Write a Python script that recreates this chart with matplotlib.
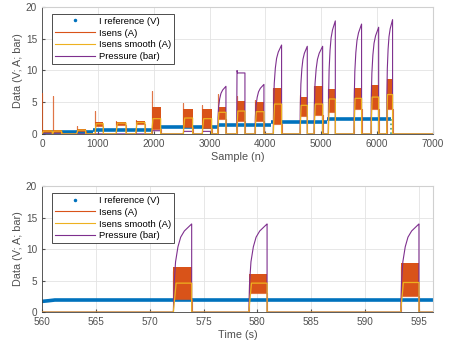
import numpy as np
import matplotlib.pyplot as plt
from matplotlib.lines import Line2D

plt.rcParams['font.family'] = ['Liberation Sans', 'DejaVu Sans']

# colores tipo MATLAB
C_REF = '#0072BD'
C_ISENS = '#D95319'
C_SMOOTH = '#EDB120'
C_PRESS = '#7E2F8E'

# --- grafico superior (muestras) ---
ref_start = [0, 913, 1970, 3150, 4100, 5100]
ref_end = [913, 1970, 3150, 4100, 5100, 6240]
ref_level = [0.26, 0.6, 1.1, 1.47, 1.94, 2.36]

t_start = [0, 191, 620, 949, 1325, 1677, 1963, 2530, 2870, 3145,
           3485, 3813, 4141, 4620, 4870, 5126, 5585, 5890, 6170]
t_end = [185, 352, 782, 1097, 1504, 1844, 2125, 2697, 3038, 3294,
         3634, 3974, 4290, 4750, 5025, 5252, 5722, 6028, 6277]
t_lo = [0.3, 0.3, 0.4, 1.3, 1.4, 1.5, 0.8, 1.1, 1.0, 2.4,
        2.0, 2.0, 1.5, 2.8, 3.0, 3.5, 4.0, 4.0, 4.0]
t_hi = [0.6, 0.6, 0.8, 1.9, 1.9, 2.1, 4.3, 3.9, 3.9, 4.3,
        5.2, 5.0, 7.3, 5.8, 7.5, 7.0, 7.2, 7.7, 8.6]
t_spike = [6.5, 6.0, 1.2, 3.6, 2.0, 2.2, 6.8, 4.8, 4.5, 6.3,
           6.0, 5.4, 7.2, 6.2, 7.5, 7.0, 7.2, 7.7, 8.6]
t_smooth = [0.45, 0.45, 0.6, 1.6, 1.7, 1.8, 2.4, 2.5, 2.4, 3.4,
            3.6, 3.5, 4.7, 4.5, 4.7, 5.5, 5.6, 5.8, 6.2]
t_press = [0, 0, 0, 0, 0, 0, 0.5, 0.4, 0.4, 7.5,
           9.6, 7.8, 14.0, 13.8, 13.8, 17.8, 17.3, 16.8, 18.0]
t_shape = ['flat'] * 9 + ['rise', 'flat'] + ['rise'] * 8

# --- grafico inferior (tiempo) ---
bref_t = [560, 560.6, 561.2, 596.3]
bref_v = [1.7, 1.8, 1.92, 1.92]

b_start = [572.2, 579.2, 593.3]
b_end = [573.9, 580.9, 595.0]
b_lo = [2.0, 3.0, 2.5]
b_hi = [7.2, 6.0, 7.8]
b_spike = [6.6, 4.4, 7.3]
b_smooth = [4.6, 4.6, 4.7]
b_press = [14.0, 14.0, 14.0]
b_shape = ['rise', 'rise', 'rise']

# perfiles de presion (fraccion del pulso, fraccion del pico)
prof_frac = [0, 0.05, 0.12, 0.25, 0.4, 0.6, 0.8, 0.95, 1.0]
prof = {'rise': [0, 0.35, 0.57, 0.74, 0.85, 0.92, 0.96, 0.99, 1.0],
        'flat': [0, 1.04, 1.0, 1.0, 1.0, 1.0, 1.0, 1.0, 1.0]}


def dibuja(ax, x0, x1, st, en, lo, hi, sp, sm, pr, sh):
    xi, yi = [x0], [0]
    xs, ys = [x0], [0]
    xp, yp = [x0], [0]
    for s, e, l, h, k, m, p, f in zip(st, en, lo, hi, sp, sm, pr, sh):
        d = e - s
        ax.fill_between([s, e], [l, l], [h, h], color=C_ISENS, lw=0, zorder=2)
        xi += [s, s, s, e, e]
        yi += [0, k, l, l, 0]
        xs += [s, s + 0.15 * d, e, e]
        ys += [0, m, m, 0]
        for fr, v in zip(prof_frac, prof[f]):
            xp.append(s + fr * d)
            yp.append(p * v)
        xp.append(e)
        yp.append(0)
    xi.append(x1); yi.append(0)
    xs.append(x1); ys.append(0)
    xp.append(x1); yp.append(0)
    ax.plot(xi, yi, color=C_ISENS, lw=0.8, alpha=0.8, zorder=3)
    ax.plot(xs, ys, color=C_SMOOTH, lw=0.9, zorder=4)
    ax.plot(xp, yp, color=C_PRESS, lw=0.8, zorder=3)


def estilo(ax, xlim, xlabel):
    ax.set_xlim(xlim)
    ax.set_ylim(0, 20)
    ax.set_yticks([0, 5, 10, 15, 20])
    ax.grid(True, color='#e3e3e3', lw=0.6)
    ax.set_axisbelow(True)
    ax.tick_params(direction='in', length=2, labelsize=7.2, colors='#505050')
    for s in ['top', 'right']:
        ax.spines[s].set_color('#d0d0d0')
    for s in ['left', 'bottom']:
        ax.spines[s].set_color('#404040')
        ax.spines[s].set_linewidth(0.6)
    ax.set_xlabel(xlabel, fontsize=7.8, color='#505050', labelpad=2)
    ax.set_ylabel('Data (V; A; bar)', fontsize=7.8, color='#505050', labelpad=2)
    handles = [Line2D([], [], color=C_REF, marker='.', ls='none', ms=3),
               Line2D([], [], color=C_ISENS, lw=0.8),
               Line2D([], [], color=C_SMOOTH, lw=0.8),
               Line2D([], [], color=C_PRESS, lw=0.8)]
    labels = ['I reference (V)', 'Isens (A)', 'Isens smooth (A)', 'Pressure (bar)']
    leg = ax.legend(handles, labels, loc='upper left', bbox_to_anchor=(0.026, 0.945),
                    borderaxespad=0, fontsize=6.8, handlelength=4.2, handletextpad=0.5,
                    labelspacing=0.3, borderpad=0.3, fancybox=False, framealpha=1)
    leg.get_frame().set_edgecolor('#303030')
    leg.get_frame().set_linewidth(0.6)


fig = plt.figure(figsize=(4.51, 3.46), dpi=100)
ax1 = fig.add_axes([0.093, 0.613, 0.867, 0.367])
ax2 = fig.add_axes([0.093, 0.098, 0.867, 0.364])

ax1.hlines(ref_level, ref_start, ref_end, color=C_REF, lw=2.6, zorder=1)
ax1.vlines(ref_end[-1], 0, ref_level[-1], color='#4a9a80', lw=1.2, ls=':', zorder=5)
dibuja(ax1, 0, 7000, t_start, t_end, t_lo, t_hi, t_spike, t_smooth, t_press, t_shape)
estilo(ax1, (0, 7000), 'Sample (n)')
ax1.set_xticks(range(0, 7001, 1000))

ax2.plot(bref_t, bref_v, color=C_REF, lw=2.6, zorder=1)
dibuja(ax2, 560, 596.3, b_start, b_end, b_lo, b_hi, b_spike, b_smooth, b_press, b_shape)
estilo(ax2, (560, 596.3), 'Time (s)')
ax2.set_xticks(range(560, 596, 5))

fig.savefig('out.png', dpi=100)
